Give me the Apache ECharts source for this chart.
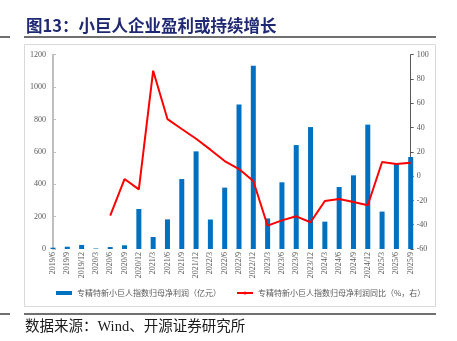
<!DOCTYPE html>
<html>
<head>
<meta charset="utf-8">
<script src="https://cdn.jsdelivr.net/npm/echarts@6/dist/echarts.min.js"></script>
<style>
  html, body { margin: 0; padding: 0; background: #fff; }
  #chart { width: 457px; height: 341px; }
</style>
</head>
<body>
<div id="chart"></div>
<script>
// Quarterly reporting periods
const periods = [
  '2019/6', '2019/9', '2019/12', '2020/3', '2020/6', '2020/9', '2020/12',
  '2021/3', '2021/6', '2021/9', '2021/12', '2022/3', '2022/6', '2022/9',
  '2022/12', '2023/3', '2023/6', '2023/9', '2023/12', '2024/3', '2024/6',
  '2024/9', '2024/12', '2025/3', '2025/6', '2025/9'
];

// Net profit attributable to parent (亿元)
const netProfit = [
  8, 14, 25, 3, 12, 23, 247,
  74, 183, 432, 603, 182, 379, 893,
  1132, 189, 412, 642, 753, 169, 383,
  455, 768, 231, 529, 568
];

// Year-over-year growth (%), right axis
const netProfitYoY = [
  null, null, null, null, -32.6, -2.4, -10.9,
  86.8, 47, 38.8, 30.8, 21.8, 12.4, 5.8,
  -4, -40.8, -36.4, -33.1, -38, -20.5, -18.9,
  -21.3, -24, 11.6, 10, 11
];

const leftTicks = { min: 0, max: 1200, interval: 200 };
const rightTicks = { min: -60, max: 100, interval: 20 };

const barName = '专精特新小巨人指数归母净利润（亿元）';
const lineName = '专精特新小巨人指数归母净利润同比（%，右）';

const chart = echarts.init(document.getElementById('chart'), null, { renderer: 'canvas' });

const axisFont = { fontFamily: 'Liberation Serif', fontSize: 8, color: '#595959' };

chart.setOption({
  animation: false,
  backgroundColor: '#fff',
  title: [
    {
      text: '图13：小巨人企业盈利或持续增长',
      left: 26, top: 17, padding: 0,
      textStyle: { fontFamily: 'Noto Sans CJK SC', fontWeight: 'bold', fontSize: 16.5, color: '#1F2873' }
    },
    {
      text: '数据来源：Wind、开源证券研究所',
      left: 25, top: 320, padding: 0,
      textStyle: { fontFamily: 'Liberation Serif, Noto Sans CJK SC', fontWeight: 'normal', fontSize: 14.5, color: '#1a1a1a' }
    }
  ],
  graphic: [
    { type: 'rect', shape: { x: 24.5, y: 44.5, width: 411, height: 262 }, style: { fill: 'none', stroke: '#D9D9D9', lineWidth: 1 }, silent: true },
    { type: 'line', shape: { x1: 24, y1: 37, x2: 436, y2: 37 }, style: { stroke: '#404040', lineWidth: 1.5 }, silent: true },
    { type: 'line', shape: { x1: 0, y1: 37, x2: 10, y2: 37 }, style: { stroke: '#404040', lineWidth: 1.5 }, silent: true },
    { type: 'line', shape: { x1: 24, y1: 314, x2: 436, y2: 314 }, style: { stroke: '#404040', lineWidth: 1.5 }, silent: true },
    { type: 'line', shape: { x1: 0, y1: 314, x2: 10, y2: 314 }, style: { stroke: '#404040', lineWidth: 1.5 }, silent: true }
  ],
  grid: { left: 53, right: 46.3, top: 54.7, bottom: 92, containLabel: false },
  legend: {
    left: 51, top: 284,
    itemGap: 15, itemWidth: 16, itemHeight: 4,
    textStyle: { fontFamily: 'Noto Sans CJK SC', fontSize: 8, color: '#595959' },
    data: [
      { name: barName, icon: 'rect' },
      { name: lineName }
    ]
  },
  xAxis: {
    type: 'category',
    data: periods,
    boundaryGap: false,
    axisLine: { show: false },
    axisTick: { show: false },
    axisLabel: { ...axisFont, rotate: 90, margin: 3, interval: 0 }
  },
  yAxis: [
    {
      type: 'value',
      ...leftTicks,
      axisLine: { show: true, lineStyle: { color: '#BFBFBF', width: 2 } },
      axisTick: { show: true, inside: true, length: 3, lineStyle: { color: '#BFBFBF' } },
      axisLabel: { ...axisFont, margin: 7, formatter: (v) => String(v) },
      splitLine: { show: false }
    },
    {
      type: 'value',
      ...rightTicks,
      position: 'right',
      axisLine: { show: true, lineStyle: { color: '#595959', width: 1 } },
      axisTick: { show: true, inside: false, length: 3, lineStyle: { color: '#595959' } },
      axisLabel: { ...axisFont, margin: 6, formatter: (v) => String(v) },
      splitLine: { show: false }
    }
  ],
  series: [
    {
      name: barName,
      type: 'bar',
      data: netProfit,
      barWidth: 5,
      itemStyle: { color: '#0070C0' }
    },
    {
      name: lineName,
      type: 'line',
      yAxisIndex: 1,
      data: netProfitYoY,
      symbol: 'none',
      lineStyle: { color: '#FF0000', width: 2 },
      itemStyle: { color: '#FF0000' }
    }
  ]
});
</script>
</body>
</html>
